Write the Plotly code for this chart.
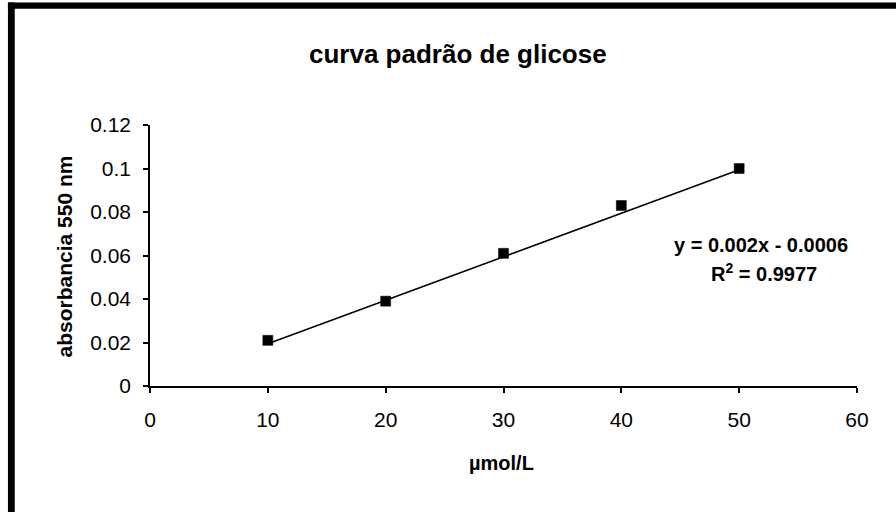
import plotly.graph_objects as go

# Glucose standard curve data
concentracao = [10, 20, 30, 40, 50]          # µmol/L
absorbancia = [0.021, 0.039, 0.061, 0.083, 0.100]

# Linear trendline coefficients (as printed on the chart)
inclinacao = 0.002
intercepto = -0.0006
r2_texto = "0.9977"

x_ticks = [0, 10, 20, 30, 40, 50, 60]
y_ticks = [0, 0.02, 0.04, 0.06, 0.08, 0.1, 0.12]
y_tick_text = ["0", "0.02", "0.04", "0.06", "0.08", "0.1", "0.12"]

W, H = 896, 512
L, R, T, B = 150, 896 - 856.7, 125.3, 512 - 385.7
PW, PH = W - L - R, H - T - B


def px(x):
    return (x - L) / PW


def py(y):
    return (H - B - y) / PH


FONT = "Arial, Liberation Sans, sans-serif"

trend_x = [concentracao[0], concentracao[-1]]
trend_y = [inclinacao * v + intercepto for v in trend_x]

fig = go.Figure()
fig.add_trace(go.Scatter(
    x=trend_x, y=trend_y, mode="lines",
    line=dict(color="black", width=1.6),
    hoverinfo="skip", showlegend=False,
))
fig.add_trace(go.Scatter(
    x=concentracao, y=absorbancia, mode="markers",
    marker=dict(symbol="square", size=10, color="black",
                line=dict(color="black", width=0.5)),
    showlegend=False,
))

axis_common = dict(
    showgrid=False, zeroline=False, showline=True, linecolor="black",
    linewidth=1.5, ticks="outside", ticklen=5, tickwidth=1.5,
    tickcolor="black", tickfont=dict(family=FONT, size=21, color="black"),
)

fig.update_xaxes(range=[0, 60], tickvals=x_ticks, ticklabelstandoff=9,
                 **axis_common)
fig.update_yaxes(range=[0, 0.12], tickvals=y_ticks, ticktext=y_tick_text,
                 ticklabelstandoff=8, **axis_common)

annotations = [
    dict(text="<b>curva padrão de glicose</b>", x=px(457.5), y=py(54),
         font=dict(family=FONT, size=26, color="black")),
    dict(text="<b>absorbancia 550 nm</b>", x=px(65), y=py(256.5),
         textangle=-90, font=dict(family=FONT, size=21, color="black")),
    dict(text="<b>µmol/L</b>", x=px(501), y=py(463),
         font=dict(family=FONT, size=20, color="black")),
    dict(text="<b>y = 0.002x - 0.0006</b>", x=px(760.5), y=py(245),
         font=dict(family=FONT, size=20, color="black")),
    dict(text=f"<b>R<sup>2</sup> = {r2_texto}</b>", x=px(764), y=py(272),
         font=dict(family=FONT, size=20, color="black")),
]
for a in annotations:
    a.update(xref="paper", yref="paper", showarrow=False,
             xanchor="center", yanchor="middle")

# Thick frame along the top and left edges
shapes = [
    dict(type="rect", xref="paper", yref="paper", x0=px(8), x1=px(900),
         y0=py(3), y1=py(9.3), fillcolor="black", line=dict(width=0)),
    dict(type="rect", xref="paper", yref="paper", x0=px(8), x1=px(14.8),
         y0=py(3), y1=py(520), fillcolor="black", line=dict(width=0)),
]

fig.update_layout(
    width=W, height=H,
    margin=dict(l=L, r=R, t=T, b=B, autoexpand=False),
    paper_bgcolor="white", plot_bgcolor="white",
    annotations=annotations, shapes=shapes,
    showlegend=False,
)

fig.write_html("out.html")
